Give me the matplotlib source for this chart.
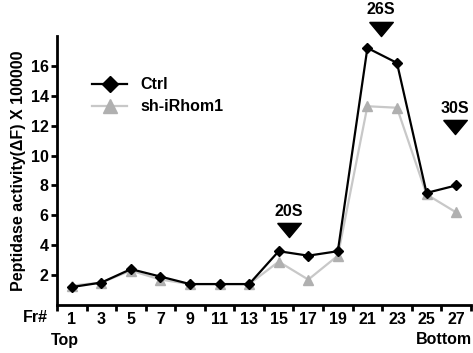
import numpy as np
import matplotlib.pyplot as plt

plt.rcParams['font.family'] = ['Liberation Sans', 'DejaVu Sans']
plt.rcParams['font.weight'] = 'bold'

fractions = [1, 3, 5, 7, 9, 11, 13, 15, 17, 19, 21, 23, 25, 27]
ctrl = [1.2, 1.5, 2.4, 1.9, 1.4, 1.4, 1.4, 3.6, 3.3, 3.6, 17.2, 16.2, 7.5, 8.0]
sh_irhom1 = [1.3, 1.5, 2.3, 1.7, 1.4, 1.4, 1.4, 2.9, 1.7, 3.3, 13.3, 13.2, 7.4, 6.2]

# sedimentation markers: label, fraction, arrow height
peaks = ['20S', '26S', '30S']
peak_x = [15.7, 21.9, 26.9]
peak_y = [5.0, 18.5, 11.9]

fs = 11.5
tri = [(-1, 0.6), (1, 0.6), (0, -0.6), (-1, 0.6)]  # flat downward arrow

fig = plt.figure(figsize=(4.73, 3.53), dpi=100)
ax = fig.add_axes([0.1205, 0.136, 0.875, 0.762])

ax.plot(fractions, ctrl, color='black', lw=1.6, marker='D', ms=5.5,
        label='Ctrl', zorder=3)
ax.plot(fractions, sh_irhom1, color='#c8c8c8', lw=1.6, marker='^', ms=6.5,
        mfc='#b0b0b0', mec='#b0b0b0', label='sh-iRhom1', zorder=2)

for lab, px, py in zip(peaks, peak_x, peak_y):
    ax.plot(px, py, marker=tri, ms=17, color='black', clip_on=False)
    ax.text(px, py + 0.75, lab, ha='center', va='bottom', fontsize=fs,
            fontweight='bold')

ax.set_xlim(0, 28)
ax.set_ylim(0, 18)
ax.set_yticks([2, 4, 6, 8, 10, 12, 14, 16])
ax.set_xticks(fractions)
ax.set_xticks(np.arange(0, 29, 2), minor=True)
ax.tick_params(axis='x', which='major', length=0, pad=5, labelsize=fs)
ax.tick_params(axis='x', which='minor', length=4, width=2, direction='out')
ax.tick_params(axis='y', length=4, width=2, direction='out', labelsize=fs,
               pad=2)
for t in ax.get_xticklabels() + ax.get_yticklabels():
    t.set_fontweight('bold')

for s in ['top', 'right']:
    ax.spines[s].set_visible(False)
for s in ['left', 'bottom']:
    ax.spines[s].set_linewidth(2)

ax.set_ylabel('Peptidase activity(ΔF) X 100000', fontsize=fs,
              fontweight='bold', labelpad=3)

fig.text(35 / 473, 1 - 317 / 353, 'Fr#', ha='center', va='center',
         fontsize=fs, fontweight='bold')
fig.text(65 / 473, 1 - 340 / 353, 'Top', ha='center', va='center',
         fontsize=fs, fontweight='bold')
fig.text(444 / 473, 1 - 340 / 353, 'Bottom', ha='center', va='center',
         fontsize=fs, fontweight='bold')

ax.legend(loc='upper left', bbox_to_anchor=(0.05, 0.90), frameon=False,
          handlelength=2.2, labelspacing=0.45, markerscale=1.5,
          prop={'weight': 'bold', 'size': fs})

fig.savefig('out.png', dpi=100)
